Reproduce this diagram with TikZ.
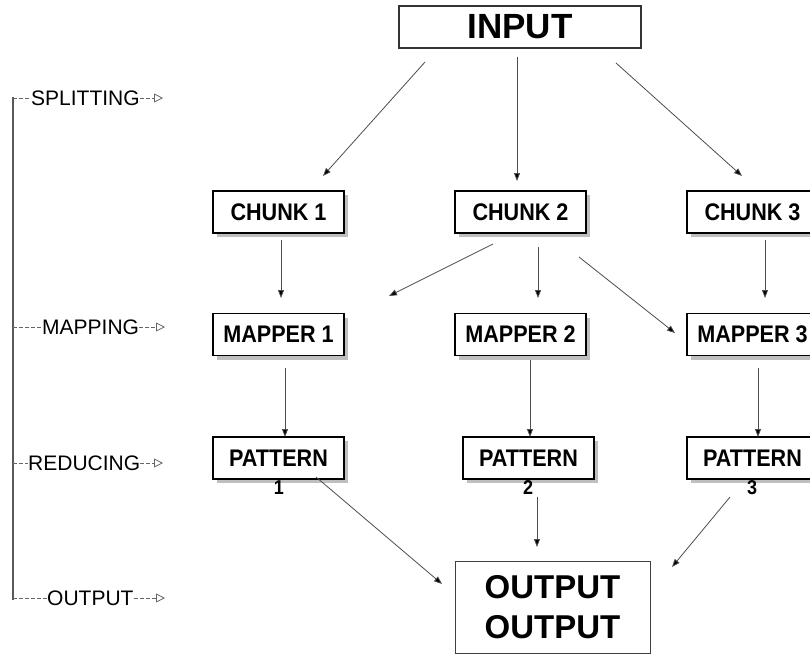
\documentclass[tikz,border=0pt]{standalone}
\usepackage{fontspec}
\setmainfont{Liberation Sans}
\newfontfamily\bfn{Liberation Sans}[FakeStretch=0.9]
\newfontfamily\bfw{Liberation Sans}[FakeStretch=1.0]
\usetikzlibrary{arrows.meta,shadows}
\begin{document}
\begin{tikzpicture}[x=1pt,y=-1pt,
  boxst/.style={draw=black, line width=1.5pt, fill=white, minimum width=131pt, minimum height=42pt, inner sep=0pt,
    font=\bfn\bfseries\fontsize{24}{28}\selectfont,
    drop shadow={shadow xshift=4pt, shadow yshift=-4pt, fill=black!25, opacity=1}},
  numst/.style={inner sep=0pt, font=\bfn\bfseries\fontsize{20}{22}\selectfont},
  bigbox/.style={draw=black!75, line width=1pt, fill=white, inner sep=0pt},
  arr/.style={draw=black!70, line width=0.8pt, -{Triangle[length=8pt,width=6pt,fill=black]}},
  lbl/.style={inner sep=0pt, anchor=west, font=\fontsize{21}{24}\selectfont},
  dline/.style={draw=black!60, line width=0.8pt, dash pattern=on 4pt off 2pt},
  tline/.style={dline, -{Triangle[open,length=9pt,width=9pt,fill=white]}}
]
\useasboundingbox (0,0) rectangle (810,654);
\clip (0,0) rectangle (810,654);

% main nodes
\node[bigbox, line width=1.5pt, draw=black!80, minimum width=242pt, minimum height=42pt,
  font=\bfw\bfseries\fontsize{35}{40}\selectfont] (input) at (520,27) {INPUT};

\node[boxst] (c1) at (278.5,212) {CHUNK 1};
\node[boxst] (c2) at (520.5,212) {CHUNK 2};
\node[boxst] (c3) at (752.5,212) {CHUNK 3};

\node[boxst] (m1) at (278.5,334.5) {MAPPER 1};
\node[boxst] (m2) at (520.5,334.5) {MAPPER 2};
\node[boxst] (m3) at (752.5,334.5) {MAPPER 3};

\node[boxst] (p1) at (278.5,458) {PATTERN};
\node[boxst] (p2) at (528.5,458) {PATTERN};
\node[boxst] (p3) at (752.5,458) {PATTERN};
\node[numst] (n1) at (279,488) {1};
\node[numst] (n2) at (528,488) {2};
\node[numst] (n3) at (752,488) {3};

\node[bigbox, minimum width=195pt, minimum height=92pt, align=center,
  font=\bfw\bfseries\fontsize{33}{40}\selectfont] (out) at (552.5,607) {OUTPUT\\OUTPUT};

% connector end points
\coordinate (a1s) at (425,62);  \coordinate (a1e) at (323,176);
\coordinate (a2s) at (517,57);  \coordinate (a2e) at (517,181);
\coordinate (a3s) at (616,63);  \coordinate (a3e) at (742,176);
\coordinate (b1s) at (281,240); \coordinate (b1e) at (281,298);
\coordinate (b2s) at (493,244); \coordinate (b2e) at (389,296);
\coordinate (b3s) at (538,247); \coordinate (b3e) at (538,298);
\coordinate (b4s) at (579,257); \coordinate (b4e) at (675,333);
\coordinate (b5s) at (765,240); \coordinate (b5e) at (765,298);
\coordinate (d1s) at (285,368); \coordinate (d1e) at (285,437);
\coordinate (d2s) at (530,360); \coordinate (d2e) at (530,437);
\coordinate (d3s) at (758,368); \coordinate (d3e) at (758,437);
\coordinate (e1s) at (316,477); \coordinate (e1e) at (442,584);
\coordinate (e2s) at (537,497); \coordinate (e2e) at (537,547);
\coordinate (e3s) at (730,497); \coordinate (e3e) at (672,567);

\draw[arr] (a1s) -- (a1e);
\draw[arr] (a2s) -- (a2e);
\draw[arr] (a3s) -- (a3e);
\draw[arr] (b1s) -- (b1e);
\draw[arr] (b2s) -- (b2e);
\draw[arr] (b3s) -- (b3e);
\draw[arr] (b4s) -- (b4e);
\draw[arr] (b5s) -- (b5e);
\draw[arr] (d1s) -- (d1e);
\draw[arr] (d2s) -- (d2e);
\draw[arr] (d3s) -- (d3e);
\draw[arr] (e1s) -- (e1e);
\draw[arr] (e2s) -- (e2e);
\draw[arr] (e3s) -- (e3e);

% left stage bracket
\coordinate (vt) at (13,97);
\coordinate (vb) at (13,600);
\draw[draw=black!65, line width=1.8pt] (vt) -- (vb);

\node[lbl] (ls) at (31,98) {SPLITTING};
\node[lbl] (lm) at (42,327) {MAPPING};
\node[lbl] (lr) at (28,463) {REDUCING};
\node[lbl] (lo) at (47,598) {OUTPUT};

\coordinate (ls0) at (13,98);  \coordinate (ls1) at (163,98);
\coordinate (lm0) at (13,327); \coordinate (lm1) at (165,327);
\coordinate (lr0) at (13,463); \coordinate (lr1) at (163,463);
\coordinate (lo0) at (13,598); \coordinate (lo1) at (165,598);

\draw[dline] (ls0) -- (ls.west);
\draw[tline] (ls.east) -- (ls1);
\draw[dline] (lm0) -- (lm.west);
\draw[tline] (lm.east) -- (lm1);
\draw[dline] (lr0) -- (lr.west);
\draw[tline] (lr.east) -- (lr1);
\draw[dline] (lo0) -- (lo.west);
\draw[tline] (lo.east) -- (lo1);
\end{tikzpicture}
\end{document}
